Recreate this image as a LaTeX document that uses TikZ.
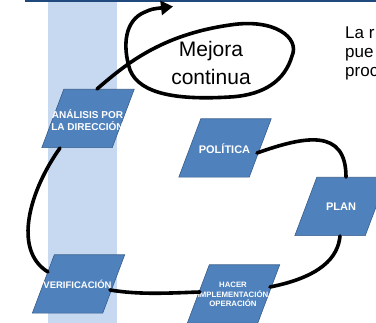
\documentclass[tikz,border=0pt]{standalone}
\usepackage{fontspec}
\setmainfont{Liberation Sans}
\usetikzlibrary{arrows.meta,calc}
\definecolor{barblue}{HTML}{1F497D}
\definecolor{colblue}{HTML}{C6D9F0}
\definecolor{boxfill}{HTML}{4F81BD}
\definecolor{boxline}{HTML}{385D8A}
\newcommand{\stageshape}[1]{%
  \filldraw[stagefill] ($(#1.north west)+(22,0)$) -- (#1.north east)
    -- ($(#1.south east)+(-22,0)$) -- (#1.south west) -- cycle;}
\begin{document}
\begin{tikzpicture}[x=1pt,y=-1pt,
  stage/.style={rectangle, minimum width=92pt, minimum height=58pt, inner sep=0pt},
  stagefill/.style={fill=boxfill, draw=boxline, line width=0.6pt},
  stagetext/.style={text=white, align=center, inner sep=0pt},
  flow/.style={line width=3.6pt, black, line cap=round}
]
\useasboundingbox (0,0) rectangle (376,323);
\clip (0,0) rectangle (376,323);
\fill[barblue] (25,0) rectangle (376,2);
\fill[colblue] (48,2) rectangle (117,323);

% stages
\node[stage] (ana) at (88,118.5) {};
\node[stage] (pol) at (225,148) {};
\node[stage] (plan) at (341,206.5) {};
\node[stage] (ver) at (78.5,284) {};
\node[stage] (hac) at (233.5,294) {};
\stageshape{ana}
\stageshape{pol}
\stageshape{plan}
\stageshape{ver}
\stageshape{hac}

\node[stagetext, font=\bfseries\fontsize{10}{12}\selectfont] (anat) at (87.5,120) {ANÁLISIS POR\\LA DIRECCIÓN};
\node[stagetext, font=\bfseries\fontsize{11}{13}\selectfont] (polt) at (224.5,149) {POLÍTICA};
\node[stagetext, font=\bfseries\fontsize{11}{13}\selectfont] (plant) at (341,207) {PLAN};
\node[stagetext, font=\bfseries\fontsize{9.5}{11}\selectfont] (vert) at (77.5,284) {VERIFICACIÓN};
\node[stagetext, font=\bfseries\fontsize{7.8}{9.5}\selectfont] (hact) at (233,294.5) {HACER\\IMPLEMENTACIÓN\\OPERACIÓN};

% texts
\node[anchor=north, inner sep=0pt, align=center, font=\fontsize{21}{27.5}\selectfont] (mej) at (211,41.5) {Mejora\\continua};
\node[anchor=north west, inner sep=0pt, align=left, font=\fontsize{17}{19}\selectfont] (side) at (345,27) {La r\\pue\\proc};

% connectors
\draw[flow] ($(ana.center)+(-28,29.5)$) .. controls (30,190) and (12,250) .. ($(ver.center)+(-30.5,-12)$);
\draw[flow] ($(ver.center)+(31.5,6)$) .. controls (140,295) and (170,293) .. ($(hac.center)+(-33.5,-2)$);
\draw[flow] ($(hac.center)+(36.5,-7)$) .. controls (320,277) and (338,258) .. ($(plan.center)+(-1,29.5)$);
\draw[flow] ($(pol.center)+(32,5)$) .. controls (305,136) and (346,128) .. ($(plan.center)+(5,-29.5)$);

\coordinate (tip) at (173,6.5);
\draw[flow, -{Triangle[length=12pt,width=14pt]}] ($(ana.center)+(9,-29.5)$)
  .. controls (125,65) and (160,35) .. (230,25)
  .. controls (275,18) and (300,38) .. (292,56)
  .. controls (285,80) and (265,95) .. (230,97)
  .. controls (180,100) and (140,95) .. (130,70)
  .. controls (122,45) and (125,20) .. (145,12)
  .. controls (152,9) .. (tip);
\end{tikzpicture}
\end{document}
